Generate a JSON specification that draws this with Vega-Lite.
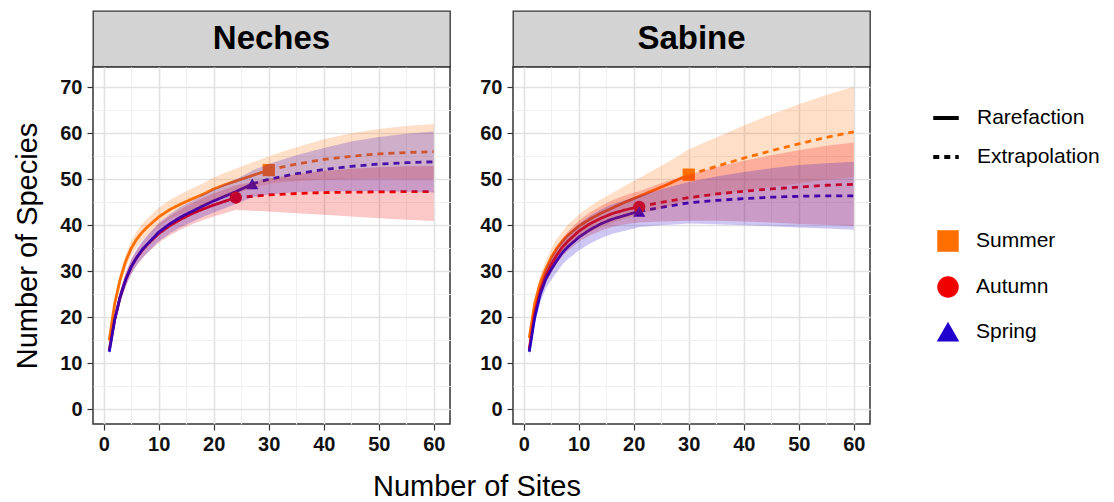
{
"$schema": "https://vega.github.io/schema/vega-lite/v6.json",
"padding": {"left": 13, "top": 10, "right": 5, "bottom": 5},
"background": "white",
"config": {"font": "Liberation Sans", "view": {"stroke": null}},
"title": {"text": "Number of Sites", "orient": "bottom", "anchor": "start", "frame": "group", "dx": 280, "offset": 18, "fontSize": 29, "fontWeight": "normal", "color": "black", "font": "Liberation Sans"},
"datasets": {
"obs": [
{"site":"Neches","season":"Summer","m":30,"S":52},
{"site":"Neches","season":"Autumn","m":24,"S":46},
{"site":"Neches","season":"Spring","m":27,"S":49},
{"site":"Sabine","season":"Summer","m":30,"S":51},
{"site":"Sabine","season":"Autumn","m":21,"S":44},
{"site":"Sabine","season":"Spring","m":21,"S":43}
],
"curves": [
{"site":"Neches","season":"Summer","method":"Rarefaction","m":1,"S":15.0,"lo":14.2,"hi":15.8},
{"site":"Neches","season":"Summer","method":"Rarefaction","m":2,"S":23.0,"lo":21.9,"hi":24.1},
{"site":"Neches","season":"Summer","method":"Rarefaction","m":3,"S":28.3,"lo":27.0,"hi":29.6},
{"site":"Neches","season":"Summer","method":"Rarefaction","m":4,"S":32.2,"lo":30.7,"hi":33.7},
{"site":"Neches","season":"Summer","method":"Rarefaction","m":5,"S":35.0,"lo":33.4,"hi":36.6},
{"site":"Neches","season":"Summer","method":"Rarefaction","m":6,"S":37.0,"lo":35.3,"hi":38.7},
{"site":"Neches","season":"Summer","method":"Rarefaction","m":7,"S":38.5,"lo":36.7,"hi":40.3},
{"site":"Neches","season":"Summer","method":"Rarefaction","m":8,"S":39.7,"lo":37.8,"hi":41.6},
{"site":"Neches","season":"Summer","method":"Rarefaction","m":10,"S":41.8,"lo":39.8,"hi":43.8},
{"site":"Neches","season":"Summer","method":"Rarefaction","m":12,"S":43.4,"lo":41.3,"hi":45.5},
{"site":"Neches","season":"Summer","method":"Rarefaction","m":14,"S":44.6,"lo":42.4,"hi":46.8},
{"site":"Neches","season":"Summer","method":"Rarefaction","m":16,"S":45.7,"lo":43.4,"hi":48.0},
{"site":"Neches","season":"Summer","method":"Rarefaction","m":18,"S":46.7,"lo":44.3,"hi":49.1},
{"site":"Neches","season":"Summer","method":"Rarefaction","m":20,"S":47.9,"lo":45.4,"hi":50.4},
{"site":"Neches","season":"Summer","method":"Rarefaction","m":22,"S":48.8,"lo":46.2,"hi":51.4},
{"site":"Neches","season":"Summer","method":"Rarefaction","m":24,"S":49.6,"lo":46.9,"hi":52.3},
{"site":"Neches","season":"Summer","method":"Rarefaction","m":26,"S":50.4,"lo":47.6,"hi":53.2},
{"site":"Neches","season":"Summer","method":"Rarefaction","m":28,"S":51.2,"lo":48.3,"hi":54.1},
{"site":"Neches","season":"Summer","method":"Rarefaction","m":30,"S":52.0,"lo":49.0,"hi":55.0},
{"site":"Neches","season":"Summer","method":"Extrapolation","m":30,"S":52.0,"lo":49.0,"hi":55.0},
{"site":"Neches","season":"Summer","method":"Extrapolation","m":33,"S":52.8,"lo":49.4,"hi":56.2},
{"site":"Neches","season":"Summer","method":"Extrapolation","m":36,"S":53.5,"lo":49.7,"hi":57.3},
{"site":"Neches","season":"Summer","method":"Extrapolation","m":40,"S":54.3,"lo":49.9,"hi":58.7},
{"site":"Neches","season":"Summer","method":"Extrapolation","m":45,"S":55.0,"lo":50.0,"hi":60.0},
{"site":"Neches","season":"Summer","method":"Extrapolation","m":50,"S":55.5,"lo":50.1,"hi":60.9},
{"site":"Neches","season":"Summer","method":"Extrapolation","m":55,"S":55.8,"lo":50.0,"hi":61.6},
{"site":"Neches","season":"Summer","method":"Extrapolation","m":60,"S":56.0,"lo":50.0,"hi":62.0},
{"site":"Neches","season":"Autumn","method":"Rarefaction","m":1,"S":12.8,"lo":12.0,"hi":13.6},
{"site":"Neches","season":"Autumn","method":"Rarefaction","m":2,"S":19.6,"lo":18.5,"hi":20.7},
{"site":"Neches","season":"Autumn","method":"Rarefaction","m":3,"S":24.5,"lo":23.2,"hi":25.8},
{"site":"Neches","season":"Autumn","method":"Rarefaction","m":4,"S":28.2,"lo":26.7,"hi":29.7},
{"site":"Neches","season":"Autumn","method":"Rarefaction","m":5,"S":31.0,"lo":29.4,"hi":32.6},
{"site":"Neches","season":"Autumn","method":"Rarefaction","m":6,"S":33.0,"lo":31.3,"hi":34.7},
{"site":"Neches","season":"Autumn","method":"Rarefaction","m":7,"S":34.6,"lo":32.8,"hi":36.4},
{"site":"Neches","season":"Autumn","method":"Rarefaction","m":8,"S":35.9,"lo":34.0,"hi":37.8},
{"site":"Neches","season":"Autumn","method":"Rarefaction","m":10,"S":38.2,"lo":36.2,"hi":40.2},
{"site":"Neches","season":"Autumn","method":"Rarefaction","m":12,"S":39.9,"lo":37.8,"hi":42.0},
{"site":"Neches","season":"Autumn","method":"Rarefaction","m":14,"S":41.3,"lo":39.1,"hi":43.5},
{"site":"Neches","season":"Autumn","method":"Rarefaction","m":16,"S":42.5,"lo":40.2,"hi":44.8},
{"site":"Neches","season":"Autumn","method":"Rarefaction","m":18,"S":43.5,"lo":41.1,"hi":45.9},
{"site":"Neches","season":"Autumn","method":"Rarefaction","m":20,"S":44.4,"lo":41.9,"hi":46.9},
{"site":"Neches","season":"Autumn","method":"Rarefaction","m":22,"S":45.2,"lo":42.6,"hi":47.8},
{"site":"Neches","season":"Autumn","method":"Rarefaction","m":24,"S":46.0,"lo":43.3,"hi":48.7},
{"site":"Neches","season":"Autumn","method":"Extrapolation","m":24,"S":46.0,"lo":43.3,"hi":48.7},
{"site":"Neches","season":"Autumn","method":"Extrapolation","m":30,"S":46.6,"lo":43.0,"hi":50.1},
{"site":"Neches","season":"Autumn","method":"Extrapolation","m":35,"S":46.9,"lo":42.6,"hi":51.1},
{"site":"Neches","season":"Autumn","method":"Extrapolation","m":40,"S":47.1,"lo":42.3,"hi":51.8},
{"site":"Neches","season":"Autumn","method":"Extrapolation","m":45,"S":47.2,"lo":41.9,"hi":52.3},
{"site":"Neches","season":"Autumn","method":"Extrapolation","m":50,"S":47.25,"lo":41.5,"hi":52.6},
{"site":"Neches","season":"Autumn","method":"Extrapolation","m":55,"S":47.3,"lo":41.2,"hi":52.8},
{"site":"Neches","season":"Autumn","method":"Extrapolation","m":60,"S":47.3,"lo":40.9,"hi":52.9},
{"site":"Neches","season":"Spring","method":"Rarefaction","m":1,"S":12.5,"lo":11.7,"hi":13.3},
{"site":"Neches","season":"Spring","method":"Rarefaction","m":2,"S":19.5,"lo":18.4,"hi":20.6},
{"site":"Neches","season":"Spring","method":"Rarefaction","m":3,"S":24.5,"lo":23.2,"hi":25.8},
{"site":"Neches","season":"Spring","method":"Rarefaction","m":4,"S":28.2,"lo":26.7,"hi":29.7},
{"site":"Neches","season":"Spring","method":"Rarefaction","m":5,"S":31.0,"lo":29.4,"hi":32.6},
{"site":"Neches","season":"Spring","method":"Rarefaction","m":6,"S":33.0,"lo":31.3,"hi":34.7},
{"site":"Neches","season":"Spring","method":"Rarefaction","m":7,"S":34.7,"lo":32.9,"hi":36.5},
{"site":"Neches","season":"Spring","method":"Rarefaction","m":8,"S":36.0,"lo":34.1,"hi":37.9},
{"site":"Neches","season":"Spring","method":"Rarefaction","m":10,"S":38.5,"lo":36.5,"hi":40.5},
{"site":"Neches","season":"Spring","method":"Rarefaction","m":12,"S":40.3,"lo":38.2,"hi":42.4},
{"site":"Neches","season":"Spring","method":"Rarefaction","m":14,"S":41.8,"lo":39.6,"hi":44.0},
{"site":"Neches","season":"Spring","method":"Rarefaction","m":16,"S":43.0,"lo":40.7,"hi":45.3},
{"site":"Neches","season":"Spring","method":"Rarefaction","m":18,"S":44.2,"lo":41.8,"hi":46.6},
{"site":"Neches","season":"Spring","method":"Rarefaction","m":20,"S":45.3,"lo":42.8,"hi":47.8},
{"site":"Neches","season":"Spring","method":"Rarefaction","m":22,"S":46.3,"lo":43.7,"hi":48.9},
{"site":"Neches","season":"Spring","method":"Rarefaction","m":24,"S":47.3,"lo":44.6,"hi":50.0},
{"site":"Neches","season":"Spring","method":"Rarefaction","m":26,"S":48.4,"lo":45.6,"hi":51.2},
{"site":"Neches","season":"Spring","method":"Rarefaction","m":27,"S":49.0,"lo":46.1,"hi":51.9},
{"site":"Neches","season":"Spring","method":"Extrapolation","m":27,"S":49.0,"lo":46.1,"hi":51.9},
{"site":"Neches","season":"Spring","method":"Extrapolation","m":30,"S":50.0,"lo":46.7,"hi":53.3},
{"site":"Neches","season":"Spring","method":"Extrapolation","m":35,"S":51.2,"lo":47.2,"hi":55.2},
{"site":"Neches","season":"Spring","method":"Extrapolation","m":40,"S":52.1,"lo":47.4,"hi":56.8},
{"site":"Neches","season":"Spring","method":"Extrapolation","m":45,"S":52.8,"lo":47.4,"hi":58.2},
{"site":"Neches","season":"Spring","method":"Extrapolation","m":50,"S":53.3,"lo":47.4,"hi":59.2},
{"site":"Neches","season":"Spring","method":"Extrapolation","m":55,"S":53.6,"lo":47.3,"hi":59.9},
{"site":"Neches","season":"Spring","method":"Extrapolation","m":60,"S":53.8,"lo":47.1,"hi":60.4},
{"site":"Sabine","season":"Summer","method":"Rarefaction","m":1,"S":15.5,"lo":14.6,"hi":16.4},
{"site":"Sabine","season":"Summer","method":"Rarefaction","m":2,"S":23.0,"lo":21.8,"hi":24.2},
{"site":"Sabine","season":"Summer","method":"Rarefaction","m":3,"S":27.5,"lo":26.0,"hi":29.0},
{"site":"Sabine","season":"Summer","method":"Rarefaction","m":4,"S":30.5,"lo":28.8,"hi":32.2},
{"site":"Sabine","season":"Summer","method":"Rarefaction","m":5,"S":33.0,"lo":31.1,"hi":34.9},
{"site":"Sabine","season":"Summer","method":"Rarefaction","m":6,"S":35.0,"lo":33.0,"hi":37.0},
{"site":"Sabine","season":"Summer","method":"Rarefaction","m":7,"S":36.5,"lo":34.4,"hi":38.6},
{"site":"Sabine","season":"Summer","method":"Rarefaction","m":8,"S":37.8,"lo":35.5,"hi":40.1},
{"site":"Sabine","season":"Summer","method":"Rarefaction","m":10,"S":39.8,"lo":37.3,"hi":42.3},
{"site":"Sabine","season":"Summer","method":"Rarefaction","m":12,"S":41.3,"lo":38.5,"hi":44.1},
{"site":"Sabine","season":"Summer","method":"Rarefaction","m":14,"S":42.6,"lo":39.6,"hi":45.6},
{"site":"Sabine","season":"Summer","method":"Rarefaction","m":16,"S":43.7,"lo":40.5,"hi":46.9},
{"site":"Sabine","season":"Summer","method":"Rarefaction","m":18,"S":44.8,"lo":41.3,"hi":48.3},
{"site":"Sabine","season":"Summer","method":"Rarefaction","m":20,"S":45.8,"lo":42.0,"hi":49.6},
{"site":"Sabine","season":"Summer","method":"Rarefaction","m":22,"S":46.8,"lo":42.7,"hi":50.9},
{"site":"Sabine","season":"Summer","method":"Rarefaction","m":24,"S":47.8,"lo":43.3,"hi":52.3},
{"site":"Sabine","season":"Summer","method":"Rarefaction","m":26,"S":48.8,"lo":44.0,"hi":53.6},
{"site":"Sabine","season":"Summer","method":"Rarefaction","m":28,"S":49.9,"lo":44.8,"hi":55.0},
{"site":"Sabine","season":"Summer","method":"Rarefaction","m":30,"S":51.0,"lo":45.5,"hi":56.5},
{"site":"Sabine","season":"Summer","method":"Extrapolation","m":30,"S":51.0,"lo":45.5,"hi":56.5},
{"site":"Sabine","season":"Summer","method":"Extrapolation","m":35,"S":52.8,"lo":46.5,"hi":59.1},
{"site":"Sabine","season":"Summer","method":"Extrapolation","m":40,"S":54.6,"lo":47.5,"hi":61.7},
{"site":"Sabine","season":"Summer","method":"Extrapolation","m":45,"S":56.2,"lo":48.3,"hi":64.1},
{"site":"Sabine","season":"Summer","method":"Extrapolation","m":50,"S":57.7,"lo":49.1,"hi":66.3},
{"site":"Sabine","season":"Summer","method":"Extrapolation","m":55,"S":59.1,"lo":49.9,"hi":68.3},
{"site":"Sabine","season":"Summer","method":"Extrapolation","m":60,"S":60.3,"lo":50.5,"hi":70.1},
{"site":"Sabine","season":"Autumn","method":"Rarefaction","m":1,"S":13.0,"lo":12.2,"hi":13.8},
{"site":"Sabine","season":"Autumn","method":"Rarefaction","m":2,"S":21.0,"lo":19.9,"hi":22.1},
{"site":"Sabine","season":"Autumn","method":"Rarefaction","m":3,"S":25.8,"lo":24.4,"hi":27.2},
{"site":"Sabine","season":"Autumn","method":"Rarefaction","m":4,"S":29.0,"lo":27.4,"hi":30.6},
{"site":"Sabine","season":"Autumn","method":"Rarefaction","m":5,"S":31.5,"lo":29.7,"hi":33.3},
{"site":"Sabine","season":"Autumn","method":"Rarefaction","m":6,"S":33.5,"lo":31.6,"hi":35.4},
{"site":"Sabine","season":"Autumn","method":"Rarefaction","m":7,"S":35.2,"lo":33.2,"hi":37.2},
{"site":"Sabine","season":"Autumn","method":"Rarefaction","m":8,"S":36.5,"lo":34.4,"hi":38.6},
{"site":"Sabine","season":"Autumn","method":"Rarefaction","m":10,"S":38.7,"lo":36.4,"hi":41.0},
{"site":"Sabine","season":"Autumn","method":"Rarefaction","m":12,"S":40.3,"lo":37.8,"hi":42.8},
{"site":"Sabine","season":"Autumn","method":"Rarefaction","m":14,"S":41.5,"lo":38.8,"hi":44.2},
{"site":"Sabine","season":"Autumn","method":"Rarefaction","m":16,"S":42.5,"lo":39.6,"hi":45.4},
{"site":"Sabine","season":"Autumn","method":"Rarefaction","m":18,"S":43.2,"lo":40.1,"hi":46.3},
{"site":"Sabine","season":"Autumn","method":"Rarefaction","m":20,"S":43.8,"lo":40.5,"hi":47.1},
{"site":"Sabine","season":"Autumn","method":"Rarefaction","m":21,"S":44.0,"lo":40.6,"hi":47.4},
{"site":"Sabine","season":"Autumn","method":"Extrapolation","m":21,"S":44.0,"lo":40.6,"hi":47.4},
{"site":"Sabine","season":"Autumn","method":"Extrapolation","m":25,"S":45.0,"lo":40.8,"hi":49.2},
{"site":"Sabine","season":"Autumn","method":"Extrapolation","m":30,"S":46.0,"lo":41.0,"hi":51.0},
{"site":"Sabine","season":"Autumn","method":"Extrapolation","m":35,"S":46.8,"lo":41.0,"hi":52.6},
{"site":"Sabine","season":"Autumn","method":"Extrapolation","m":40,"S":47.4,"lo":40.8,"hi":54.0},
{"site":"Sabine","season":"Autumn","method":"Extrapolation","m":45,"S":47.9,"lo":40.6,"hi":55.2},
{"site":"Sabine","season":"Autumn","method":"Extrapolation","m":50,"S":48.3,"lo":40.3,"hi":56.3},
{"site":"Sabine","season":"Autumn","method":"Extrapolation","m":55,"S":48.7,"lo":40.1,"hi":57.3},
{"site":"Sabine","season":"Autumn","method":"Extrapolation","m":60,"S":48.9,"lo":39.8,"hi":58.0},
{"site":"Sabine","season":"Spring","method":"Rarefaction","m":1,"S":12.5,"lo":11.6,"hi":13.4},
{"site":"Sabine","season":"Spring","method":"Rarefaction","m":2,"S":20.0,"lo":18.6,"hi":21.4},
{"site":"Sabine","season":"Spring","method":"Rarefaction","m":3,"S":25.0,"lo":23.2,"hi":26.8},
{"site":"Sabine","season":"Spring","method":"Rarefaction","m":4,"S":28.3,"lo":26.2,"hi":30.4},
{"site":"Sabine","season":"Spring","method":"Rarefaction","m":5,"S":30.4,"lo":28.1,"hi":32.7},
{"site":"Sabine","season":"Spring","method":"Rarefaction","m":6,"S":32.3,"lo":29.8,"hi":34.8},
{"site":"Sabine","season":"Spring","method":"Rarefaction","m":7,"S":34.0,"lo":31.4,"hi":36.6},
{"site":"Sabine","season":"Spring","method":"Rarefaction","m":8,"S":35.3,"lo":32.6,"hi":38.0},
{"site":"Sabine","season":"Spring","method":"Rarefaction","m":10,"S":37.4,"lo":34.5,"hi":40.3},
{"site":"Sabine","season":"Spring","method":"Rarefaction","m":12,"S":39.0,"lo":36.0,"hi":42.0},
{"site":"Sabine","season":"Spring","method":"Rarefaction","m":14,"S":40.3,"lo":37.2,"hi":43.4},
{"site":"Sabine","season":"Spring","method":"Rarefaction","m":16,"S":41.3,"lo":38.1,"hi":44.5},
{"site":"Sabine","season":"Spring","method":"Rarefaction","m":18,"S":42.0,"lo":38.7,"hi":45.3},
{"site":"Sabine","season":"Spring","method":"Rarefaction","m":20,"S":42.7,"lo":39.3,"hi":46.1},
{"site":"Sabine","season":"Spring","method":"Rarefaction","m":21,"S":43.0,"lo":39.6,"hi":46.4},
{"site":"Sabine","season":"Spring","method":"Extrapolation","m":21,"S":43.0,"lo":39.6,"hi":46.4},
{"site":"Sabine","season":"Spring","method":"Extrapolation","m":25,"S":43.9,"lo":40.0,"hi":47.8},
{"site":"Sabine","season":"Spring","method":"Extrapolation","m":30,"S":44.9,"lo":40.4,"hi":49.4},
{"site":"Sabine","season":"Spring","method":"Extrapolation","m":35,"S":45.4,"lo":40.2,"hi":50.6},
{"site":"Sabine","season":"Spring","method":"Extrapolation","m":40,"S":45.8,"lo":40.0,"hi":51.6},
{"site":"Sabine","season":"Spring","method":"Extrapolation","m":45,"S":46.1,"lo":39.8,"hi":52.4},
{"site":"Sabine","season":"Spring","method":"Extrapolation","m":50,"S":46.3,"lo":39.5,"hi":53.1},
{"site":"Sabine","season":"Spring","method":"Extrapolation","m":55,"S":46.4,"lo":39.3,"hi":53.5},
{"site":"Sabine","season":"Spring","method":"Extrapolation","m":60,"S":46.4,"lo":39.0,"hi":53.8}
]
},
"spacing": 28,
"hconcat": [
{
"spacing": 0, "bounds": "flush",
"vconcat": [
{
"width": 357, "height": 56,
"view": {"fill": "#D3D3D3", "stroke": "#333333", "strokeWidth": 1.3},
"data": {"values": [{"panel": "Neches"}]},
"mark": {"type": "text", "fontSize": 33, "fontWeight": "bold", "color": "black", "baseline": "middle", "align": "center"},
"encoding": {"text": {"field": "panel", "type": "nominal"}}
},
{
"width": 357, "height": 357,
"view": {"fill": "white", "stroke": "#333333", "strokeWidth": 1.5},
"encoding": {
"x": {"field": "m", "type": "quantitative",
 "scale": {"domain": [-1.95, 62.95], "nice": false, "zero": false},
 "axis": {"title": null,
  "values": [0,5,10,15,20,25,30,35,40,45,50,55,60],
  "labelExpr": "datum.value % 10 === 0 ? datum.label : ''",
  "labelFontSize": 20, "labelFontWeight": "bold", "labelColor": "#111111", "labelPadding": 4, "labelOverlap": false, "labelFlush": false,
  "domain": false, "tickSize": 6, "tickColor": "#333333", "tickWidth": 1.2,
  "tickOpacity": {"condition": {"test": "datum.value % 10 === 0", "value": 1}, "value": 0},
  "gridColor": {"condition": {"test": "datum.value % 10 === 0", "value": "#E2E2E2"}, "value": "#F0F0F0"},
  "gridWidth": {"condition": {"test": "datum.value % 10 === 0", "value": 1.6}, "value": 1}}},
"y": {"field": "S", "type": "quantitative",
  "scale": {"domain": [-3.2, 74.4], "nice": false, "zero": false},
  "axis": {"title": "Number of Species", "titleFontSize": 29, "titleFontWeight": "normal", "titleColor": "black", "titlePadding": 17,
   "values": [0,5,10,15,20,25,30,35,40,45,50,55,60,65,70],
   "labelExpr": "datum.value % 10 === 0 ? datum.label : ''",
   "labelFontSize": 20, "labelFontWeight": "bold", "labelColor": "#111111", "labelPadding": 5, "labelOverlap": false, "labelFlush": false,
   "domain": false, "tickSize": 6, "tickColor": "#333333", "tickWidth": 1.2,
   "tickOpacity": {"condition": {"test": "datum.value % 10 === 0", "value": 1}, "value": 0},
   "gridColor": {"condition": {"test": "datum.value % 10 === 0", "value": "#E2E2E2"}, "value": "#F0F0F0"},
   "gridWidth": {"condition": {"test": "datum.value % 10 === 0", "value": 1.6}, "value": 1}}},
"color": {"field": "season", "type": "nominal", "scale": {"domain": ["Summer","Autumn","Spring"], "range": ["#FF6F00","#F00000","#2000CC"]},
  "legend": {"title": null, "orient": "none", "legendX": 844, "legendY": 219, "labelFontSize": 21, "labelColor": "black", "symbolSize": 400, "rowPadding": 20, "labelOffset": 17, "symbolOpacity": 1}}
},
"layer": [
{
"data": {"name": "curves"},
"transform": [{"filter": "datum.site === 'Neches'"}],
"mark": {"type": "line", "strokeWidth": 2.8},
"encoding": {
 "strokeDash": {"field": "method", "type": "nominal", "scale": {"domain": ["Rarefaction","Extrapolation"], "range": [[1,0],[6,5]]},
  "legend": {"title": null, "orient": "none", "legendX": 838, "legendY": 92, "labelFontSize": 21, "labelColor": "black", "symbolType": "stroke", "symbolStrokeColor": "black", "symbolStrokeWidth": 4, "symbolSize": 650, "rowPadding": 14, "labelOffset": 16}}
}
},
{
"data": {"name": "obs"},
"transform": [{"filter": "datum.site === 'Neches'"}],
"mark": {"type": "point", "filled": true, "size": 150, "opacity": 1},
"encoding": {
 "shape": {"field": "season", "type": "nominal", "scale": {"domain": ["Summer","Autumn","Spring"], "range": ["square","circle","triangle-up"]},
  "legend": {"title": null, "orient": "none", "legendX": 844, "legendY": 219, "labelFontSize": 21, "labelColor": "black", "symbolSize": 400, "rowPadding": 20, "labelOffset": 17, "symbolOpacity": 1}}
}
},
{
"data": {"name": "curves"},
"transform": [{"filter": "datum.site === 'Neches'"}],
"mark": {"type": "area", "opacity": 0.22},
"encoding": {
 "y": {"field": "lo", "type": "quantitative",
  "scale": {"domain": [-3.2, 74.4], "nice": false, "zero": false},
  "axis": {"title": "Number of Species", "titleFontSize": 29, "titleFontWeight": "normal", "titleColor": "black", "titlePadding": 17,
   "values": [0,5,10,15,20,25,30,35,40,45,50,55,60,65,70],
   "labelExpr": "datum.value % 10 === 0 ? datum.label : ''",
   "labelFontSize": 20, "labelFontWeight": "bold", "labelColor": "#111111", "labelPadding": 5, "labelOverlap": false, "labelFlush": false,
   "domain": false, "tickSize": 6, "tickColor": "#333333", "tickWidth": 1.2,
   "tickOpacity": {"condition": {"test": "datum.value % 10 === 0", "value": 1}, "value": 0},
   "gridColor": {"condition": {"test": "datum.value % 10 === 0", "value": "#E2E2E2"}, "value": "#F0F0F0"},
   "gridWidth": {"condition": {"test": "datum.value % 10 === 0", "value": 1.6}, "value": 1}}},
 "y2": {"field": "hi"}
}
}
]
}
]
},
{
"spacing": 0, "bounds": "flush",
"vconcat": [
{
"width": 357, "height": 56,
"view": {"fill": "#D3D3D3", "stroke": "#333333", "strokeWidth": 1.3},
"data": {"values": [{"panel": "Sabine"}]},
"mark": {"type": "text", "fontSize": 33, "fontWeight": "bold", "color": "black", "baseline": "middle", "align": "center"},
"encoding": {"text": {"field": "panel", "type": "nominal"}}
},
{
"width": 357, "height": 357,
"view": {"fill": "white", "stroke": "#333333", "strokeWidth": 1.5},
"encoding": {
"x": {"field": "m", "type": "quantitative",
 "scale": {"domain": [-1.95, 62.95], "nice": false, "zero": false},
 "axis": {"title": null,
  "values": [0,5,10,15,20,25,30,35,40,45,50,55,60],
  "labelExpr": "datum.value % 10 === 0 ? datum.label : ''",
  "labelFontSize": 20, "labelFontWeight": "bold", "labelColor": "#111111", "labelPadding": 4, "labelOverlap": false, "labelFlush": false,
  "domain": false, "tickSize": 6, "tickColor": "#333333", "tickWidth": 1.2,
  "tickOpacity": {"condition": {"test": "datum.value % 10 === 0", "value": 1}, "value": 0},
  "gridColor": {"condition": {"test": "datum.value % 10 === 0", "value": "#E2E2E2"}, "value": "#F0F0F0"},
  "gridWidth": {"condition": {"test": "datum.value % 10 === 0", "value": 1.6}, "value": 1}}},
"y": {"field": "S", "type": "quantitative",
  "scale": {"domain": [-3.2, 74.4], "nice": false, "zero": false},
  "axis": {"title": null,
   "values": [0,5,10,15,20,25,30,35,40,45,50,55,60,65,70],
   "labelExpr": "datum.value % 10 === 0 ? datum.label : ''",
   "labelFontSize": 20, "labelFontWeight": "bold", "labelColor": "#111111", "labelPadding": 5, "labelOverlap": false, "labelFlush": false,
   "domain": false, "tickSize": 6, "tickColor": "#333333", "tickWidth": 1.2,
   "tickOpacity": {"condition": {"test": "datum.value % 10 === 0", "value": 1}, "value": 0},
   "gridColor": {"condition": {"test": "datum.value % 10 === 0", "value": "#E2E2E2"}, "value": "#F0F0F0"},
   "gridWidth": {"condition": {"test": "datum.value % 10 === 0", "value": 1.6}, "value": 1}}},
"color": {"field": "season", "type": "nominal", "scale": {"domain": ["Summer","Autumn","Spring"], "range": ["#FF6F00","#F00000","#2000CC"]},
  "legend": {"title": null, "orient": "none", "legendX": 844, "legendY": 219, "labelFontSize": 21, "labelColor": "black", "symbolSize": 400, "rowPadding": 20, "labelOffset": 17, "symbolOpacity": 1}}
},
"layer": [
{
"data": {"name": "curves"},
"transform": [{"filter": "datum.site === 'Sabine'"}],
"mark": {"type": "line", "strokeWidth": 2.8},
"encoding": {
 "strokeDash": {"field": "method", "type": "nominal", "scale": {"domain": ["Rarefaction","Extrapolation"], "range": [[1,0],[6,5]]},
  "legend": {"title": null, "orient": "none", "legendX": 838, "legendY": 92, "labelFontSize": 21, "labelColor": "black", "symbolType": "stroke", "symbolStrokeColor": "black", "symbolStrokeWidth": 4, "symbolSize": 650, "rowPadding": 14, "labelOffset": 16}}
}
},
{
"data": {"name": "obs"},
"transform": [{"filter": "datum.site === 'Sabine'"}],
"mark": {"type": "point", "filled": true, "size": 150, "opacity": 1},
"encoding": {
 "shape": {"field": "season", "type": "nominal", "scale": {"domain": ["Summer","Autumn","Spring"], "range": ["square","circle","triangle-up"]},
  "legend": {"title": null, "orient": "none", "legendX": 844, "legendY": 219, "labelFontSize": 21, "labelColor": "black", "symbolSize": 400, "rowPadding": 20, "labelOffset": 17, "symbolOpacity": 1}}
}
},
{
"data": {"name": "curves"},
"transform": [{"filter": "datum.site === 'Sabine'"}],
"mark": {"type": "area", "opacity": 0.22},
"encoding": {
 "y": {"field": "lo", "type": "quantitative",
  "scale": {"domain": [-3.2, 74.4], "nice": false, "zero": false},
  "axis": {"title": null,
   "values": [0,5,10,15,20,25,30,35,40,45,50,55,60,65,70],
   "labelExpr": "datum.value % 10 === 0 ? datum.label : ''",
   "labelFontSize": 20, "labelFontWeight": "bold", "labelColor": "#111111", "labelPadding": 5, "labelOverlap": false, "labelFlush": false,
   "domain": false, "tickSize": 6, "tickColor": "#333333", "tickWidth": 1.2,
   "tickOpacity": {"condition": {"test": "datum.value % 10 === 0", "value": 1}, "value": 0},
   "gridColor": {"condition": {"test": "datum.value % 10 === 0", "value": "#E2E2E2"}, "value": "#F0F0F0"},
   "gridWidth": {"condition": {"test": "datum.value % 10 === 0", "value": 1.6}, "value": 1}}},
 "y2": {"field": "hi"}
}
}
]
}
]
}
]
}
